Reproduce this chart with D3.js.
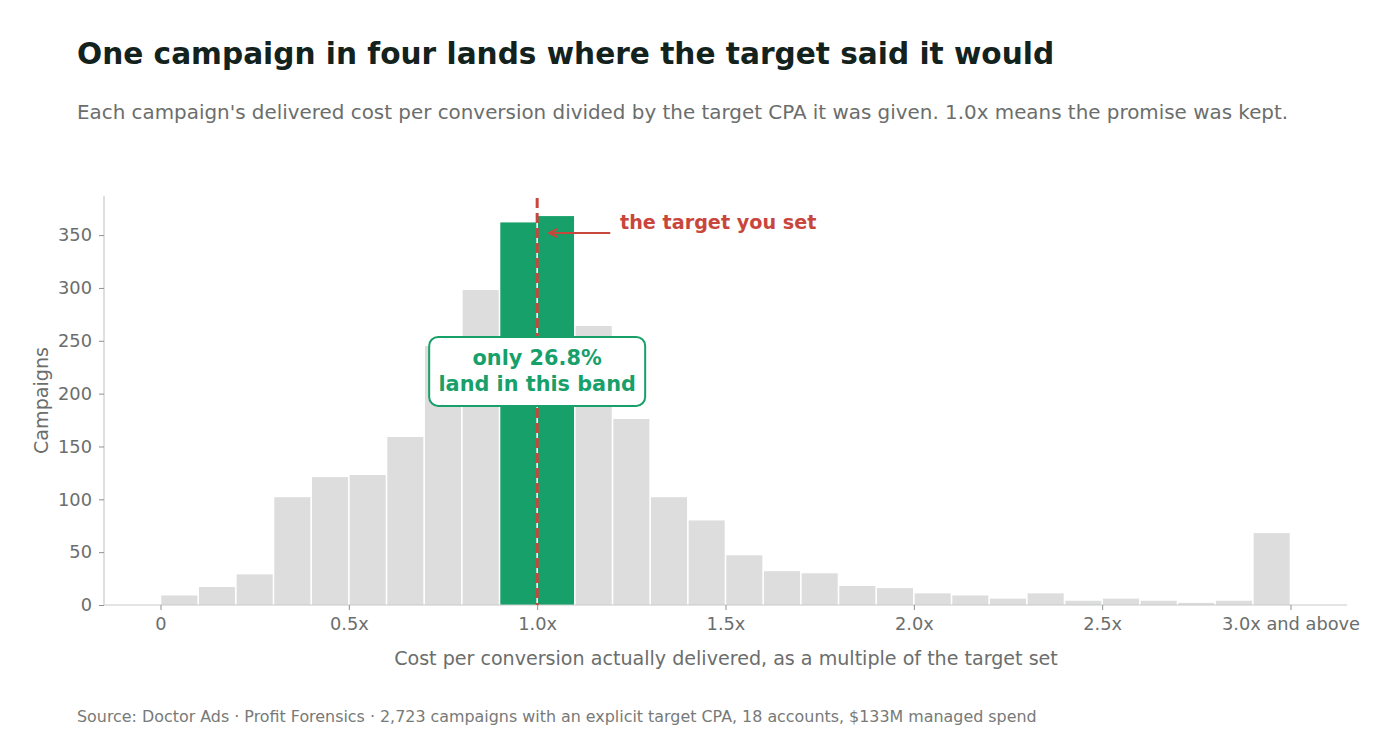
<!DOCTYPE html>
<html>
<head>
<meta charset="utf-8">
<script src="https://cdn.jsdelivr.net/npm/d3@7"></script>
<style>
  body { margin: 0; background: #fff; font-family: "DejaVu Sans", sans-serif; }
</style>
</head>
<body>
<div id="chart"></div>
<script>
// histogram bins, 0.1x wide; the last one collects 3.0x and above
var binStarts = [0, 0.1, 0.2, 0.3, 0.4, 0.5, 0.6, 0.7, 0.8, 0.9, 1.0, 1.1, 1.2, 1.3, 1.4,
                 1.5, 1.6, 1.7, 1.8, 1.9, 2.0, 2.1, 2.2, 2.3, 2.4, 2.5, 2.6, 2.7, 2.8, 2.9];
var counts = [9, 17, 29, 102, 121, 123, 159, 245, 298, 362, 368, 264, 176, 102, 80,
              47, 32, 30, 18, 16, 11, 9, 6, 11, 4, 6, 4, 2, 4, 68];
var bandStarts = [0.9, 1.0];   // the band around the target
var xTicks = [0, 0.5, 1.0, 1.5, 2.0, 2.5, 3.0];
var xTickLabels = ["0", "0.5x", "1.0x", "1.5x", "2.0x", "2.5x", "3.0x and above"];
var yTicks = [0, 50, 100, 150, 200, 250, 300, 350];

var width = 1388, height = 756;
var plotLeft = 104, plotRight = 1347, plotTop = 196, plotBottom = 605;
var binWidth = 0.1;

var grey = "#dcdddc", green = "#17a06a", red = "#c9463d";
var textGrey = "#6b6e6c", axisGrey = "#c8cccb";

var svg = d3.select("#chart").append("svg")
    .attr("width", width).attr("height", height);

var xScale = d3.scaleLinear().domain([-0.15, 3.15]).range([plotLeft, plotRight]);
var yScale = d3.scaleLinear().domain([0, 387]).range([plotBottom, plotTop]);

// titles
svg.append("text").attr("x", 77).attr("y", 64)
    .text("One campaign in four lands where the target said it would")
    .style("font-size", "29.6px").style("font-weight", "bold").attr("fill", "#13221d");
svg.append("text").attr("x", 77).attr("y", 119)
    .text("Each campaign's delivered cost per conversion divided by the target CPA it was given. 1.0x means the promise was kept.")
    .style("font-size", "19.9px").attr("fill", textGrey);
svg.append("text").attr("x", 77).attr("y", 722)
    .text("Source: Doctor Ads \u00b7 Profit Forensics \u00b7 2,723 campaigns with an explicit target CPA, 18 accounts, $133M managed spend")
    .style("font-size", "15.9px").attr("fill", "#777a78");

// bars
var data = binStarts.map((s, i) => ({ x0: s, x1: s + binWidth, n: counts[i] }));
svg.append("g").selectAll("rect").data(data).enter().append("rect")
    .attr("x", d => xScale(d.x0) + 0.8)
    .attr("width", d => xScale(d.x1) - xScale(d.x0) - 1.6)
    .attr("y", d => yScale(d.n))
    .attr("height", d => yScale(0) - yScale(d.n))
    .attr("fill", d => bandStarts.some(b => Math.abs(b - d.x0) < 1e-9) ? green : grey);

// axes
var xAxis = svg.append("g").attr("transform", "translate(0," + plotBottom + ")")
    .call(d3.axisBottom(xScale).tickValues(xTicks)
        .tickFormat((d, i) => xTickLabels[i]).tickSize(5).tickPadding(7));
var yAxis = svg.append("g").attr("transform", "translate(" + plotLeft + ",0)")
    .call(d3.axisLeft(yScale).tickValues(yTicks).tickSize(5).tickPadding(7));
[xAxis, yAxis].forEach(a => {
    a.select(".domain").attr("stroke", axisGrey).attr("stroke-width", 1.2);
    a.selectAll(".tick line").attr("stroke", "#8d918f");
    a.selectAll(".tick text").attr("fill", textGrey)
        .style("font-size", "17.8px").style("font-family", "DejaVu Sans, sans-serif");
});
xAxis.select(".domain").attr("d", "M" + plotLeft + ",0H" + plotRight);
yAxis.select(".domain").attr("d", "M0," + plotTop + "V" + plotBottom);

svg.append("text").attr("x", 726).attr("y", 665)
    .attr("text-anchor", "middle").attr("fill", textGrey).style("font-size", "19.1px")
    .text("Cost per conversion actually delivered, as a multiple of the target set");
svg.append("text")
    .attr("transform", "translate(48," + ((plotTop + plotBottom) / 2) + ") rotate(-90)")
    .attr("text-anchor", "middle").attr("fill", textGrey).style("font-size", "19.1px")
    .text("Campaigns");

// target line
svg.append("line")
    .attr("x1", xScale(1.0)).attr("x2", xScale(1.0))
    .attr("y1", yScale(385)).attr("y2", yScale(0))
    .attr("stroke", red).attr("stroke-width", 3).attr("stroke-dasharray", "10,5");

// arrow + label
svg.append("defs").append("marker")
    .attr("id", "arr").attr("viewBox", "0 0 10 10").attr("refX", 9).attr("refY", 5)
    .attr("markerWidth", 5).attr("markerHeight", 5).attr("orient", "auto")
    .append("path").attr("d", "M1,1 L9,5 L1,9").attr("fill", "none")
    .attr("stroke", red).attr("stroke-width", 2);
svg.append("line")
    .attr("x1", xScale(1.194)).attr("x2", xScale(1.032))
    .attr("y1", yScale(352)).attr("y2", yScale(352))
    .attr("stroke", red).attr("stroke-width", 2).attr("marker-end", "url(#arr)");
svg.append("text").attr("x", xScale(1.22)).attr("y", yScale(356))
    .text("the target you set").attr("fill", red)
    .style("font-size", "19.2px").style("font-weight", "bold");

// band callout
var bx = xScale(1.0), by = yScale(221);
svg.append("rect").attr("x", bx - 108).attr("y", by - 34.5)
    .attr("width", 216).attr("height", 69).attr("rx", 9)
    .attr("fill", "#fff").attr("stroke", green).attr("stroke-width", 2);
var share = (d3.sum(bandStarts, b => counts[binStarts.indexOf(b)]) / d3.sum(counts) * 100).toFixed(1);
["only " + share + "%", "land in this band"].forEach((t, i) => {
    svg.append("text").attr("x", bx).attr("y", by - 6 + i * 26)
        .attr("text-anchor", "middle").attr("fill", green)
        .style("font-size", "20.8px").style("font-weight", "bold").text(t);
});
</script>
</body>
</html>
